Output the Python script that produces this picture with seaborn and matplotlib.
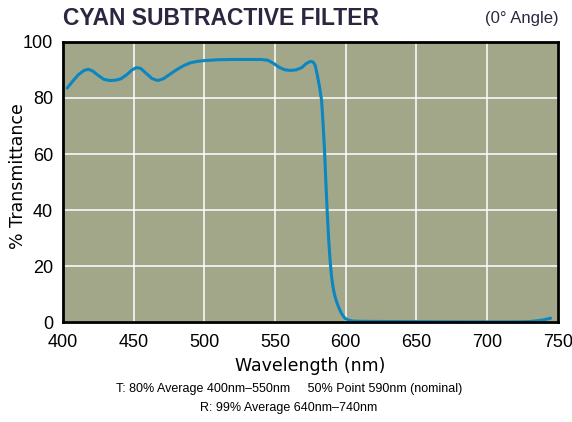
import numpy as np
import pandas as pd
import matplotlib.pyplot as plt
import seaborn as sns

# curve
wavelength = [403, 407, 411, 415, 418, 421, 425, 429, 433, 437, 441, 445, 449, 452, 455,
              459, 463, 467, 471, 475, 480, 485, 490, 495, 500, 510, 520, 530, 540, 545,
              549, 553, 557, 561, 565, 569, 572, 575, 577, 578.5, 580, 581.5, 583, 584, 585,
              586, 587, 588, 589, 590, 591, 592, 593, 594, 595, 596, 597, 598, 599, 600,
              602, 605, 610, 620, 640, 660, 680, 700, 720, 730, 736, 740, 745]
transmission = [83.5, 86.0, 88.3, 89.8, 90.2, 89.6, 88.0, 86.6, 86.2, 86.3, 86.8, 88.2, 90.0, 90.8, 90.5,
                88.7, 86.9, 86.2, 86.8, 88.2, 89.9, 91.4, 92.5, 93.0, 93.3, 93.6, 93.7, 93.7, 93.7, 93.4,
                92.3, 90.9, 90.0, 89.8, 90.0, 90.8, 92.2, 93.0, 92.8, 91.5, 88.0, 84.0, 79.0, 71.0, 62.0,
                50.0, 39.0, 29.5, 22.0, 16.5, 12.8, 10.2, 8.3, 6.8, 5.5, 4.3, 3.3, 2.5, 1.8, 1.3,
                0.8, 0.5, 0.4, 0.35, 0.3, 0.25, 0.2, 0.2, 0.2, 0.3, 0.6, 0.9, 1.5]
x_ticks = [400, 450, 500, 550, 600, 650, 700, 750]
y_ticks = [0, 20, 40, 60, 80, 100]

df = pd.DataFrame({'Wavelength': wavelength, 'T': transmission})

sns.set_style('white')
plt.rcParams['font.family'] = ['Liberation Sans Narrow', 'Liberation Sans', 'DejaVu Sans']
plt.rcParams['text.color'] = 'black'
plt.rcParams['xtick.color'] = 'black'
plt.rcParams['ytick.color'] = 'black'
plt.rcParams['axes.labelcolor'] = 'black'

fig = plt.figure(figsize=(5.72, 4.22), dpi=100)
ax = fig.add_axes([0.110, 0.236, 0.865, 0.665])
ax.set_facecolor('#a3a78a')

sns.lineplot(data=df, x='Wavelength', y='T', ax=ax, color='#0a86c0', linewidth=2.2)

ax.set_xlim(400, 750)
ax.set_ylim(0, 100)
ax.set_xticks(x_ticks)
ax.set_yticks(y_ticks)
ax.grid(True, color='white', linewidth=1.1)
ax.tick_params(axis='both', labelsize=13, length=0)
ax.tick_params(axis='x', pad=8)
ax.tick_params(axis='y', pad=7)
for s in ax.spines.values():
    s.set_color('black')
    s.set_linewidth(2)

ax.set_xlabel('Wavelength (nm)', family='DejaVu Sans', fontsize=12.5, labelpad=5)
ax.set_ylabel('')
# y label placed by hand so it sits close to the figure edge like the original
fig.text(0.031, 0.583, '% Transmittance', family='DejaVu Sans', fontsize=12.5,
         rotation=90, ha='center', va='center')

fig.text(0.110, 0.957, 'CYAN SUBTRACTIVE FILTER', fontsize=16.5, fontweight='bold',
         color='#2e2640', va='center', ha='left')
fig.text(0.976, 0.955, '(0° Angle)', fontsize=12, color='#2e2640', va='center', ha='right')
fig.text(0.505, 0.078, 'T: 80% Average 400nm\u2013550nm     50% Point 590nm (nominal)',
         fontsize=9, ha='center', va='center')
fig.text(0.505, 0.034, 'R: 99% Average 640nm\u2013740nm', fontsize=9, ha='center', va='center')

plt.savefig('out.png', dpi=100)
